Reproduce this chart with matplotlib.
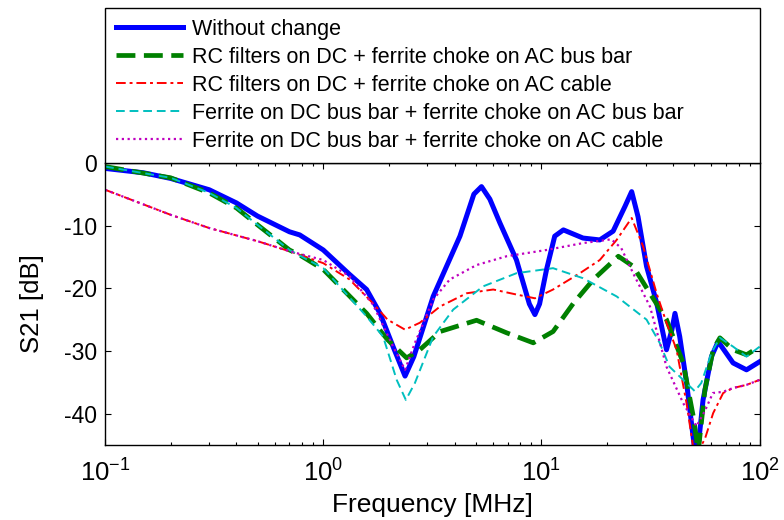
import matplotlib

matplotlib.use("Agg")
import matplotlib.pyplot as plt
from matplotlib.ticker import LogLocator, NullFormatter

plt.rcParams["font.family"] = ["Liberation Sans", "DejaVu Sans"]
plt.rcParams["mathtext.default"] = "regular"
plt.rcParams["axes.unicode_minus"] = False

# * данные (частота в МГц, S21 в дБ)
f_base = [0.1, 0.15, 0.2, 0.3, 0.4, 0.5, 0.7, 0.78, 1.0, 1.32, 1.58, 1.82, 2.1, 2.37, 2.6,
          3.19, 4.23, 4.9, 5.31, 5.8, 6.45, 7.68, 8.8, 9.33, 9.8, 10.55, 11.5, 12.6, 15.5,
          18.5, 21.3, 24.1, 25.9, 27.7, 30.3, 33.7, 37.4, 39.6, 40.9, 43, 46.2, 51.3, 55,
          60.1, 64.5, 75.5, 87, 100]
s_base = [-0.9, -1.6, -2.5, -4.3, -6.4, -8.5, -11, -11.5, -13.9, -17.8, -20.2, -24, -29.5,
          -34, -30.9, -21.3, -11.7, -5, -3.8, -5.8, -9.6, -15.5, -22.5, -24.2, -22.5, -17,
          -11.7, -10.7, -12, -12.3, -10.9, -7, -4.6, -8.6, -16.5, -22.3, -29.8, -26.6, -24,
          -27.7, -35, -48, -37.8, -30.9, -28.5, -31.9, -33, -31.7]

f_rc_bus = [0.1, 0.2, 0.3, 0.4, 0.5, 0.7, 0.78, 1.0, 1.58, 1.97, 2.41, 2.77, 3.43, 5.04,
            6.92, 9.17, 11.3, 14, 17.3, 22.5, 26.3, 31.4, 37.4, 44.6, 49.6, 52.3, 56.1,
            61.2, 65.7, 75.5, 87, 100]
s_rc_bus = [-0.6, -2.4, -4.8, -7.2, -9.9, -13.9, -14.7, -17, -24, -28.2, -31.1, -29.8,
            -26.9, -25.1, -27.1, -28.7, -26.9, -22.4, -18.6, -14.9, -16.5, -20.8, -25,
            -31.9, -40.4, -46, -36.2, -29.8, -27.9, -29.8, -30.6, -29.3]

f_rc_cable = [0.1, 0.2, 0.3, 0.5, 0.7, 1.0, 1.32, 1.69, 1.97, 2.37, 2.77, 3.43, 4.54, 6.01,
              7.68, 9.33, 11.3, 15, 18.5, 22.1, 25.9, 29.2, 33.7, 37.4, 41.6, 46.2, 50.4,
              56.1, 61.2, 68, 75.5, 87, 100]
s_rc_cable = [-4.3, -8.3, -10.4, -12.5, -14.1, -16, -18.6, -22.4, -25, -26.6, -25.5, -22.9,
              -20.8, -20.2, -21, -21.6, -20.2, -17.6, -15.5, -12.3, -8.8, -13.3, -20.8,
              -25.5, -29.8, -38.3, -47, -44, -39.9, -36.7, -35.9, -35.4, -34.6]

f_fe_bus = [0.1, 0.2, 0.3, 0.4, 0.5, 0.7, 1.0, 1.58, 1.88, 2.17, 2.39, 2.63, 3.19, 3.94,
            5.4, 7.68, 11.3, 15.5, 22.1, 30.3, 34.8, 38.6, 44.6, 50.4, 54, 60.1, 65.7,
            75.5, 87, 100]
s_fe_bus = [-0.6, -2.4, -4.8, -7.2, -9.9, -13.9, -16.8, -24.5, -27.7, -34.6, -37.8, -35.1,
            -27.7, -23.4, -19.7, -17.6, -16.8, -18.4, -21.3, -25, -28.7, -32.5, -34.6,
            -36.4, -35.1, -30.3, -27.9, -29.3, -30.9, -29.3]

f_fe_cable = [0.1, 0.2, 0.3, 0.5, 0.7, 1.0, 1.32, 1.69, 2.09, 2.37, 2.63, 3.19, 3.8, 5.04,
              6.92, 10.55, 15.5, 20.9, 23.2, 26.3, 31.4, 37.4, 44.6, 51.3, 56, 61, 68,
              75.5, 87, 100]
s_fe_cable = [-4.3, -8.3, -10.4, -12.5, -14.1, -15.5, -18.1, -22.6, -29.3, -33, -28.7,
              -21.8, -18.6, -16.3, -14.9, -13.9, -12.8, -12.2, -13.6, -17.6, -22.9, -32.5,
              -38.3, -42, -39.6, -36.7, -36.5, -35.9, -35.4, -34.6]

labels = [
    "Without change",
    "RC filters on DC + ferrite choke on AC bus bar",
    "RC filters on DC + ferrite choke on AC cable",
    "Ferrite on DC bus bar + ferrite choke on AC bus bar",
    "Ferrite on DC bus bar + ferrite choke on AC cable",
]

fig = plt.figure(figsize=(7.84, 5.2), dpi=100)
ax = fig.add_axes([0.134, 0.144, 0.835, 0.543])

ax.plot(f_base, s_base, color="#0000ff", linewidth=3.6, label=labels[0])
ax.plot(f_rc_bus, s_rc_bus, color="#008000", linewidth=3.4, linestyle=(0, (4, 1.8)),
        label=labels[1])
ax.plot(f_rc_cable, s_rc_cable, color="#ff0000", linewidth=1.4,
        linestyle=(0, (5, 2, 1.5, 2)), label=labels[2])
ax.plot(f_fe_bus, s_fe_bus, color="#00bfbf", linewidth=1.4, linestyle=(0, (4.5, 2.5)),
        label=labels[3])
ax.plot(f_fe_cable, s_fe_cable, color="#bf00bf", linewidth=1.6, linestyle=(0, (1, 1.6)),
        label=labels[4])

ax.set_xscale("log")
ax.set_xlim(0.1, 100)
ax.set_ylim(-45, 0)
ax.set_yticks([0, -10, -20, -30, -40])
ax.xaxis.set_major_locator(LogLocator(base=10))
ax.xaxis.set_minor_locator(LogLocator(base=10, subs=range(2, 10)))
ax.xaxis.set_minor_formatter(NullFormatter())

ax.tick_params(which="both", direction="in", top=True, right=True, width=0.8)
ax.tick_params(which="major", length=4)
ax.tick_params(which="minor", length=2.5)
ax.tick_params(axis="x", labelsize=18.5, pad=10)
ax.tick_params(axis="y", labelsize=16.5, pad=6)
for sp in ax.spines.values():
    sp.set_linewidth(1.0)

ax.set_xlabel("Frequency [MHz]", fontsize=19, labelpad=5)
ax.set_ylabel("S21 [dB]", fontsize=18.5, labelpad=14)

leg = ax.legend(
    loc="lower left",
    bbox_to_anchor=(0, 1, 1, 0.55),
    mode="expand",
    borderaxespad=0.0,
    fontsize=15.5,
    handlelength=3.1,
    handletextpad=0.42,
    labelspacing=0.33,
    borderpad=0.5,
    fancybox=False,
    framealpha=1,
    edgecolor="black",
)
leg.get_frame().set_linewidth(1.0)

plt.savefig("out.png", dpi=100)
plt.close()
